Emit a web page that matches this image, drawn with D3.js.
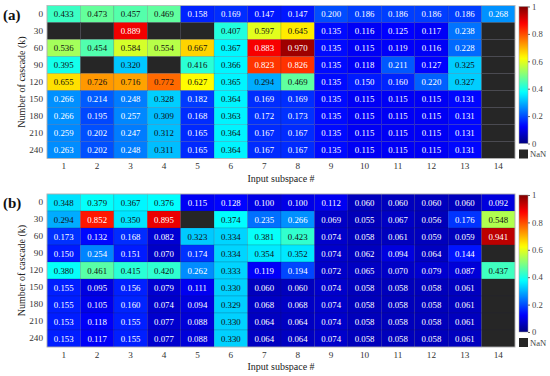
<!DOCTYPE html>
<html><head><meta charset="utf-8">
<script src="https://cdn.jsdelivr.net/npm/d3@7"></script>
<style>body{margin:0;background:#fff}svg{display:block}</style>
</head><body>
<script>
const subspaces = [1,2,3,4,5,6,7,8,9,10,11,12,13,14];
const cascades = [0,30,60,90,120,150,180,210,240];
const N = null;
const valuesA = [
 [0.433,0.473,0.457,0.469,0.158,0.169,0.147,0.147,0.200,0.186,0.186,0.186,0.186,0.268],
 [N,N,0.889,N,N,0.407,0.597,0.645,0.135,0.116,0.125,0.117,0.238,N],
 [0.536,0.454,0.584,0.554,0.667,0.367,0.883,0.970,0.135,0.115,0.119,0.116,0.228,N],
 [0.395,N,0.320,N,0.416,0.366,0.823,0.826,0.135,0.118,0.211,0.127,0.325,N],
 [0.655,0.726,0.716,0.772,0.627,0.365,0.294,0.469,0.135,0.150,0.160,0.220,0.327,N],
 [0.266,0.214,0.248,0.328,0.182,0.364,0.169,0.169,0.135,0.115,0.115,0.115,0.131,N],
 [0.266,0.195,0.257,0.309,0.168,0.363,0.172,0.173,0.135,0.115,0.115,0.115,0.131,N],
 [0.259,0.202,0.247,0.312,0.165,0.364,0.167,0.167,0.135,0.115,0.115,0.115,0.131,N],
 [0.263,0.202,0.248,0.311,0.165,0.364,0.167,0.167,0.135,0.115,0.115,0.115,0.131,N]
];
const valuesB = [
 [0.348,0.379,0.367,0.376,0.115,0.128,0.100,0.100,0.112,0.060,0.060,0.060,0.060,0.092],
 [0.294,0.852,0.350,0.895,N,0.374,0.235,0.266,0.069,0.055,0.067,0.056,0.176,0.548],
 [0.173,0.132,0.168,0.082,0.323,0.334,0.381,0.423,0.074,0.058,0.061,0.059,0.059,0.941],
 [0.150,0.254,0.151,0.070,0.174,0.334,0.354,0.352,0.074,0.062,0.094,0.064,0.144,N],
 [0.380,0.461,0.415,0.420,0.262,0.333,0.119,0.194,0.072,0.065,0.070,0.079,0.087,0.437],
 [0.155,0.095,0.156,0.079,0.111,0.330,0.060,0.060,0.074,0.058,0.058,0.058,0.061,N],
 [0.155,0.105,0.160,0.074,0.094,0.329,0.068,0.068,0.074,0.058,0.058,0.058,0.061,N],
 [0.153,0.118,0.155,0.077,0.088,0.330,0.064,0.064,0.074,0.058,0.058,0.058,0.061,N],
 [0.153,0.117,0.155,0.077,0.088,0.330,0.064,0.064,0.074,0.058,0.058,0.058,0.061,N]
];
const colorTicks = [0,0.2,0.4,0.6,0.8,1];
const panelLabels = ["(a)","(b)"];

const FONT = "Liberation Serif";

function jet(t){
  const c = v => Math.max(0, Math.min(1, v));
  const r = c(1.5 - Math.abs(4*t - 3)), g = c(1.5 - Math.abs(4*t - 2)), b = c(1.5 - Math.abs(4*t - 1));
  return d3.rgb(r*255, g*255, b*255).toString();
}
const NAN_COLOR = "#262626";

const W = 550, H = 376;
const svg = d3.select("body").append("svg").attr("width", W).attr("height", H)
  .style("font-family", FONT);

function panel(values, label, top){
  const left = 47, right = 515, h = 153;
  const x = d3.scaleBand().domain(subspaces).range([left, right]);
  const y = d3.scaleBand().domain(cascades).range([top, top + h]);
  const g = svg.append("g");
  const cells = [];
  values.forEach((row, i) => row.forEach((v, j) => cells.push({k: cascades[i], s: subspaces[j], v})));
  g.selectAll("rect.cell").data(cells).join("rect")
    .attr("x", d => x(d.s)).attr("y", d => y(d.k))
    .attr("width", x.bandwidth()).attr("height", y.bandwidth())
    .attr("fill", d => d.v == null ? NAN_COLOR : jet(d.v))
    .attr("stroke", "rgba(30,30,60,0.3)").attr("stroke-width", 0.5);
  g.selectAll("text.val").data(cells.filter(d => d.v != null)).join("text")
    .attr("x", d => x(d.s) + x.bandwidth()/2).attr("y", d => y(d.k) + y.bandwidth()/2)
    .attr("text-anchor", "middle").attr("dominant-baseline", "central")
    .style("font-family", FONT).style("font-size", "8.8px")
    .attr("fill", d => (d.v < 0.285 || d.v > 0.8) ? "#fff" : "#111")
    .text(d => d.v.toFixed(3));
  g.append("rect").attr("x", left).attr("y", top).attr("width", right-left).attr("height", h)
    .attr("fill", "none").attr("stroke", "#bbb").attr("stroke-width", 0.8);
  const yAx = g.append("g").attr("transform", `translate(${left},0)`)
    .call(d3.axisLeft(y).tickSize(0).tickPadding(4));
  yAx.select(".domain").remove();
  yAx.selectAll("text").style("font-family", FONT).style("font-size", "9.2px").attr("fill", "#333");
  const xAx = g.append("g").attr("transform", `translate(0,${top+h})`)
    .call(d3.axisBottom(x).tickSize(0).tickPadding(4));
  xAx.select(".domain").remove();
  xAx.selectAll("text").style("font-family", FONT).style("font-size", "9.2px").attr("fill", "#333");
  g.append("text").attr("x", (left+right)/2).attr("y", top + h + 23)
    .attr("text-anchor", "middle").style("font-family", FONT).style("font-size", "10px")
    .attr("fill", "#222").text("Input subspace #");
  g.append("text").attr("transform", `translate(25,${top + h/2}) rotate(-90)`)
    .attr("text-anchor", "middle").style("font-family", FONT).style("font-size", "10px")
    .attr("fill", "#222").text("Number of cascade (k)");
  g.append("text").attr("x", 3).attr("y", top + 14).style("font-family", FONT).style("font-size", "15px")
    .attr("font-weight", "bold").attr("fill", "#111").text(label);
  const cbx = 519, cbw = 9, cbTop = top + 1, cbBot = top + 138;
  const cy = d3.scaleLinear().domain([0,1]).range([cbBot, cbTop]);
  const gid = "grad" + label.replace(/\W/g, "");
  const grad = svg.append("defs").append("linearGradient").attr("id", gid)
    .attr("x1", 0).attr("y1", 1).attr("x2", 0).attr("y2", 0);
  d3.range(0, 1.0001, 0.02).forEach(t => grad.append("stop").attr("offset", t).attr("stop-color", jet(t)));
  g.append("rect").attr("x", cbx).attr("y", cbTop).attr("width", cbw).attr("height", cbBot - cbTop)
    .attr("fill", `url(#${gid})`).attr("stroke", "#999").attr("stroke-width", 0.5);
  const cAx = g.append("g").attr("transform", `translate(${cbx + cbw},0)`)
    .call(d3.axisRight(cy).tickValues(colorTicks).tickSize(2).tickPadding(2).tickFormat(d3.format("~g")));
  cAx.select(".domain").remove();
  cAx.selectAll("line").attr("stroke", "#666");
  cAx.selectAll("text").style("font-family", FONT).style("font-size", "8.6px").attr("fill", "#444");
  g.append("rect").attr("x", cbx).attr("y", top + h - 9).attr("width", cbw).attr("height", 9).attr("fill", NAN_COLOR);
  g.append("text").attr("x", cbx + cbw + 2).attr("y", top + h - 4.5).attr("dominant-baseline", "central")
    .style("font-family", FONT).style("font-size", "8.6px").attr("fill", "#444").text("NaN");
}
panel(valuesA, panelLabels[0], 5.5);
panel(valuesB, panelLabels[1], 194);
</script>
</body></html>
